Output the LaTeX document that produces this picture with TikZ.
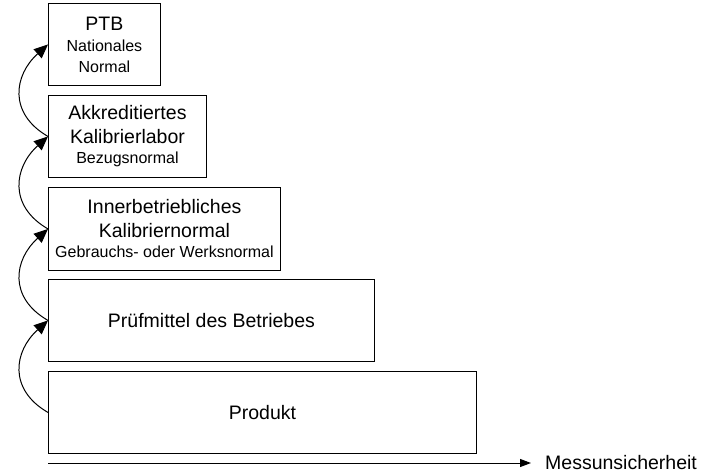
\documentclass[tikz,border=0pt]{standalone}
\usepackage{fontspec}
\setmainfont{Liberation Sans}
\usetikzlibrary{arrows.meta}
\begin{document}
\begin{tikzpicture}[x=1pt,y=1pt,
  box/.style={draw, line width=0.9pt, anchor=north west, align=center, inner sep=0pt, font=\fontsize{19.5}{23.5}\selectfont},
  arc/.style={line width=1pt, -{Triangle[length=14pt,width=12pt]}},
  axis/.style={line width=1pt, -{Triangle[length=11pt,width=8pt]}}]
\useasboundingbox (0,0) rectangle (706,-473);
\newcommand{\smalltxt}{\fontsize{16}{19}\selectfont}
\node[box, minimum width=112pt, minimum height=82pt] (ptb) at (48,-3)
  {PTB\\[-2pt]{\smalltxt Nationales}\\[-3pt]{\smalltxt Normal}};
\node[box, minimum width=158pt, minimum height=82pt] (akk) at (48,-95)
  {Akkreditiertes\\Kalibrierlabor\\[-3pt]{\smalltxt Bezugsnormal}};
\node[box, minimum width=232pt, minimum height=83pt] (inn) at (48,-187)
  {Innerbetriebliches\\Kalibriernormal\\[-3pt]{\smalltxt Gebrauchs- oder Werksnormal}};
\node[box, minimum width=326pt, minimum height=82pt] (pru) at (48,-279)
  {Prüfmittel des Betriebes};
\node[box, minimum width=428pt, minimum height=82pt] (pro) at (48,-371)
  {Produkt};
\draw[arc] (akk.west) to[out=150,in=222,distance=46pt] (ptb.west);
\draw[arc] (inn.west) to[out=150,in=222,distance=46pt] (akk.west);
\draw[arc] (pru.west) to[out=150,in=222,distance=46pt] (inn.west);
\draw[arc] (pro.west) to[out=150,in=222,distance=46pt] (pru.west);
\coordinate (ax0) at (48,-463);
\node[anchor=west, inner sep=0pt, font=\fontsize{19.5}{23.5}\selectfont] (lab) at (545,-463) {Messunsicherheit};
\draw[axis] (ax0) -- ([xshift=-14pt]lab.west);
\end{tikzpicture}
\end{document}
